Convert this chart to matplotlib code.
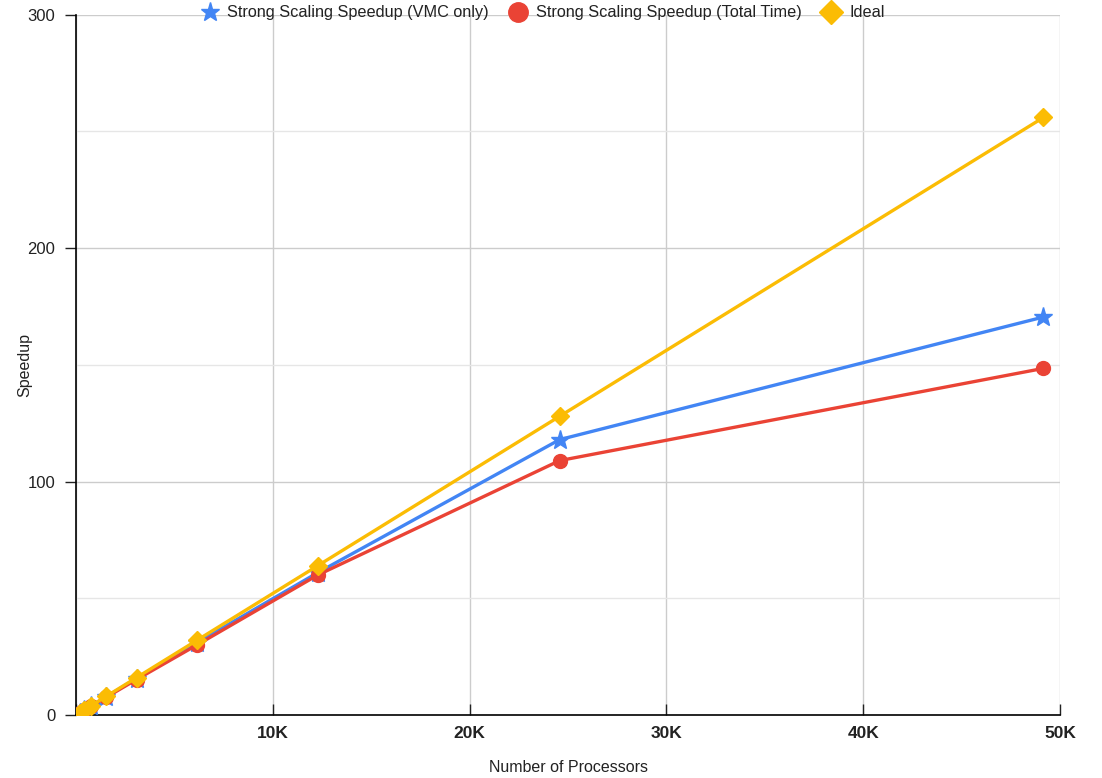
import matplotlib
matplotlib.use("Agg")
import matplotlib.pyplot as plt
from matplotlib.ticker import FuncFormatter, MultipleLocator

plt.rcParams["font.family"] = ["Liberation Sans", "DejaVu Sans"]

processors = [192, 384, 768, 1536, 3072, 6144, 12288, 24576, 49152]
vmc_speedup = [1, 2, 3.9, 7.8, 15.6, 31, 61, 118, 170.5]
total_speedup = [1, 1.95, 3.8, 7.6, 15.2, 30, 60, 109, 148.5]
ideal_speedup = [1, 2, 4, 8, 16, 32, 64, 128, 256]

BLUE = "#4285F4"
RED = "#EA4335"
YELLOW = "#FBBC04"

fig = plt.figure(figsize=(11.02, 7.78), dpi=100)
ax = fig.add_axes([0.069, 0.081, 0.893, 0.9])

ax.plot(processors, vmc_speedup, color=BLUE, lw=2.4, marker="*", ms=14,
        label="Strong Scaling Speedup (VMC only)", zorder=3)
ax.plot(processors, total_speedup, color=RED, lw=2.4, marker="o", ms=10,
        label="Strong Scaling Speedup (Total Time)", zorder=4)
ax.plot(processors, ideal_speedup, color=YELLOW, lw=2.4, marker="D", ms=9.5,
        label="Ideal", zorder=5)

ax.set_xlim(0, 50000)
ax.set_ylim(0, 300)
ax.xaxis.set_major_locator(MultipleLocator(10000))
ax.yaxis.set_major_locator(MultipleLocator(100))
ax.yaxis.set_minor_locator(MultipleLocator(50))
ax.xaxis.set_major_formatter(
    FuncFormatter(lambda v, p: "" if v == 0 else f"{int(v / 1000)}K"))

ax.grid(True, which="major", color="#cccccc", lw=1)
ax.grid(True, which="minor", axis="y", color="#e6e6e6", lw=1)
ax.set_axisbelow(True)

for s in ["top", "right"]:
    ax.spines[s].set_visible(False)
for s in ["left", "bottom"]:
    ax.spines[s].set_color("#000000")
    ax.spines[s].set_linewidth(1.2)

ax.tick_params(axis="x", direction="in", length=8, width=1, colors="#222222",
               labelsize=12.5, pad=8)
for t in ax.get_xticklabels():
    t.set_fontweight("bold")
ax.tick_params(axis="y", direction="out", length=8, width=1, colors="#222222",
               labelsize=12, pad=7)
ax.tick_params(axis="y", which="minor", length=0)

ax.set_xlabel("Number of Processors", fontsize=11.5, color="#222222")
ax.set_ylabel("Speedup", fontsize=11.5, color="#222222")
ax.xaxis.set_label_coords(0.5, -0.064)
ax.yaxis.set_label_coords(-0.044, 0.5)

fig.legend(loc="upper center", bbox_to_anchor=(0.492, 1.012), ncol=3, frameon=False,
           fontsize=11.7, handlelength=1.2, columnspacing=1.2, handletextpad=0.5,
           labelcolor="#222222")
leg = fig.legends[0]
for h in leg.legend_handles:
    h.set_linestyle("none")
sizes = [14, 14, 12]
for h, s in zip(leg.legend_handles, sizes):
    h.set_markersize(s)

fig.savefig("out.png", dpi=100)
